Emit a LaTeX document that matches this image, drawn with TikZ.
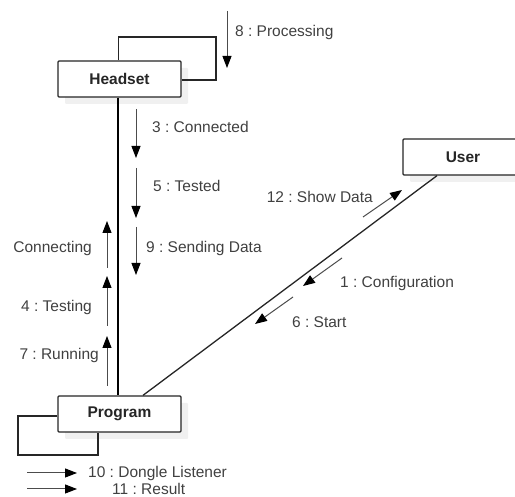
\documentclass[tikz,border=0pt]{standalone}
\usepackage{fontspec}
\setmainfont{Liberation Sans}
\usetikzlibrary{arrows.meta,shadows}
\frenchspacing

\begin{document}
\begin{tikzpicture}[x=1pt,y=-1pt,
  obj/.style={draw=black!85, line width=1.3pt, fill=white, rounded corners=1pt,
    minimum width=123pt, minimum height=36pt, inner sep=0pt,
    font=\bfseries\fontsize{15.5}{18}\selectfont, text=black!85,
    drop shadow={shadow xshift=7pt, shadow yshift=-7pt, fill=black!6, opacity=1}},
  lbl/.style={font=\fontsize{15.5}{18}\selectfont, text=black!75, inner sep=0pt},
  msg/.style={draw=black!70, line width=1pt,
    -{Triangle[length=12pt,width=9pt,color=black]}},
  link/.style={draw=black!85, line width=1.3pt},
  lifeline/.style={draw=black, line width=2.2pt}
]
\useasboundingbox (0,0) rectangle (515,497);
\clip (0,0) rectangle (515,497);

% objects
\node[obj] (headset) at (119.5,79) {Headset};
\node[obj] (program) at (119.5,414) {Program};
\node[obj, minimum width=120pt] (user) at (463,157) {User};

% links between objects
\draw[lifeline] ([xshift=-1.2pt]headset.south) -- ([xshift=-1.2pt]program.north);
\draw[link] ([xshift=-26pt]user.south) -- ([xshift=23.5pt]program.north);

% self links
\draw[link] ([xshift=-1.2pt]headset.north) |- (216,37) |- ([yshift=-1pt]headset.east);
\draw[link] ([yshift=-2pt]program.west) -| (18,455) -| ([xshift=-21.5pt]program.south);

% 8 : Processing
\coordinate (m8a) at (227,11); \coordinate (m8b) at (227,68);
\draw[msg] (m8a) -- (m8b);
\node[lbl, anchor=west] (l8) at (235,32) {8 : Processing};

% messages Headset -> Program
\coordinate (m3a) at (136,109); \coordinate (m3b) at (136,158);
\draw[msg] (m3a) -- (m3b);
\node[lbl, anchor=west] (l3) at (152,127) {3 : Connected};

\coordinate (m5a) at (136,168); \coordinate (m5b) at (136,218);
\draw[msg] (m5a) -- (m5b);
\node[lbl, anchor=west] (l5) at (153,186) {5 : Tested};

\coordinate (m9a) at (136,227); \coordinate (m9b) at (136,275);
\draw[msg] (m9a) -- (m9b);
\node[lbl, anchor=west] (l9) at (146,248) {9 : Sending Data};

% messages Program -> Headset
\coordinate (mca) at (107,268); \coordinate (mcb) at (107,221);
\draw[msg] (mca) -- (mcb);
\node[lbl, anchor=east] (lc) at (92,248) {Connecting};

\coordinate (m4a) at (107,326); \coordinate (m4b) at (107,276);
\draw[msg] (m4a) -- (m4b);
\node[lbl, anchor=east] (l4) at (92,307) {4 : Testing};

\coordinate (m7a) at (107,386); \coordinate (m7b) at (107,336);
\draw[msg] (m7a) -- (m7b);
\node[lbl, anchor=east] (l7) at (99,355) {7 : Running};

% messages on the User link
\coordinate (m12a) at (363,217); \coordinate (m12b) at (402,190);
\draw[msg] (m12a) -- (m12b);
\node[lbl, anchor=east] (l12) at (373,197) {12 : Show Data};

\coordinate (m1a) at (342,258); \coordinate (m1b) at (303,286);
\draw[msg] (m1a) -- (m1b);
\node[lbl, anchor=west] (l1) at (340,283) {1 : Configuration};

\coordinate (m6a) at (293,297); \coordinate (m6b) at (255,324);
\draw[msg] (m6a) -- (m6b);
\node[lbl, anchor=west] (l6) at (292,322) {6 : Start};

% Program self messages
\coordinate (m10a) at (27,473); \coordinate (m10b) at (77,473);
\draw[msg] (m10a) -- (m10b);
\node[lbl, anchor=west] (l10) at (88,473) {10 : Dongle Listener};

\coordinate (m11a) at (27,489); \coordinate (m11b) at (77,489);
\draw[msg] (m11a) -- (m11b);
\node[lbl, anchor=west] (l11) at (112,489) {11 : Result};
\end{tikzpicture}
\end{document}
